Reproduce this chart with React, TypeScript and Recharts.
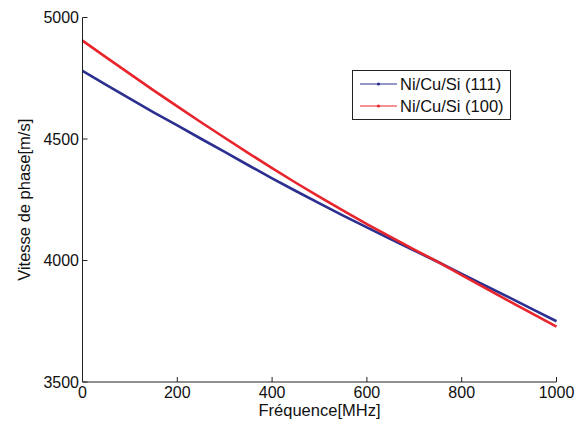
import { Label, Line, LineChart, XAxis, YAxis } from "recharts";

// frequency (MHz) and phase velocity (m/s)
const FREQ = [0, 50, 100, 150, 200, 250, 300, 350, 400, 450, 500, 550, 600, 650, 700, 750, 800, 850, 900, 950, 1000];
const V_111 = [4780, 4723, 4666, 4610, 4556, 4501, 4447, 4392, 4338, 4286, 4235, 4185, 4136, 4088, 4041, 3994, 3945, 3896, 3848, 3799, 3750];
const V_100 = [4905, 4836, 4768, 4700, 4634, 4569, 4505, 4442, 4380, 4320, 4262, 4205, 4150, 4097, 4045, 3994, 3940, 3886, 3833, 3780, 3728];
const X_TICKS = [0, 200, 400, 600, 800, 1000];
const Y_TICKS = [3500, 4000, 4500, 5000];

const BLUE = "#2b2f8f";
const RED = "#e8242c";
const AXIS = "#222";
const FONT = "'Liberation Sans', Arial, sans-serif";
const TICK = { fill: "#111", fontSize: 16, fontFamily: FONT };

const data = FREQ.map((f, i) => ({ f, v111: V_111[i], v100: V_100[i] }));

const SERIES = [
  { key: "v111", color: BLUE, label: "Ni/Cu/Si (111)" },
  { key: "v100", color: RED, label: "Ni/Cu/Si (100)" },
];

// MATLAB-style boxed legend, laid over the plot so it takes no layout space
function BoxLegend() {
  return (
    <div
      style={{
        position: "absolute",
        left: 352,
        top: 70,
        border: "1px solid #222",
        background: "#fff",
        padding: "2px 6px 2px 7px",
        fontFamily: FONT,
        fontSize: 16.5,
        lineHeight: "22px",
        color: "#111",
      }}
    >
      {SERIES.map((s) => (
        <div key={s.key} style={{ display: "flex", alignItems: "center" }}>
          <svg width={38} height={10} style={{ marginRight: 2 }}>
            <line x1={0} y1={5} x2={37} y2={5} stroke={s.color} strokeWidth={1} />
            <circle cx={18.5} cy={5} r={1.6} fill={s.color} />
          </svg>
          {s.label}
        </div>
      ))}
    </div>
  );
}

export default function App() {
  return (
    <div style={{ position: "absolute", left: 0, top: 0, width: 585, height: 425, background: "#fff" }}>
      <LineChart
        width={585}
        height={425}
        data={data}
        margin={{ top: 17.5, right: 28.5, bottom: 0, left: 0 }}
      >
        <XAxis
          dataKey="f"
          type="number"
          domain={[0, 1000]}
          ticks={X_TICKS}
          interval={0}
          stroke={AXIS}
          tick={TICK}
          tickSize={-5}
          tickMargin={10}
          height={43}
        >
          <Label
            content={({ viewBox }: any) => (
              <text
                x={viewBox.x + viewBox.width / 2}
                y={viewBox.y + 34}
                textAnchor="middle"
                fontSize={16.5}
                fontFamily={FONT}
                fill="#111"
              >
                Fréquence[MHz]
              </text>
            )}
          />
        </XAxis>
        <XAxis
          xAxisId="top"
          orientation="top"
          dataKey="f"
          type="number"
          domain={[0, 1000]}
          ticks={X_TICKS}
          stroke={AXIS}
          tick={false}
          tickSize={-5}
          height={0}
        />
        <YAxis
          type="number"
          domain={[3500, 5000]}
          ticks={Y_TICKS}
          interval={0}
          stroke={AXIS}
          tick={TICK}
          tickSize={-5}
          tickMargin={8.5}
          width={82.5}
        >
          <Label
            content={({ viewBox }: any) => (
              <text
                x={viewBox.x + 24}
                y={viewBox.y + viewBox.height / 2}
                transform={`rotate(-90 ${viewBox.x + 24} ${viewBox.y + viewBox.height / 2})`}
                textAnchor="middle"
                dominantBaseline="central"
                fontSize={16.5}
                fontFamily={FONT}
                fill="#111"
              >
                Vitesse de phase[m/s]
              </text>
            )}
          />
        </YAxis>
        <YAxis
          yAxisId="right"
          orientation="right"
          type="number"
          domain={[3500, 5000]}
          ticks={Y_TICKS}
          stroke={AXIS}
          tick={false}
          tickSize={-5}
          width={0}
        />
        {SERIES.map((s) => (
          <Line
            key={s.key}
            dataKey={s.key}
            stroke={s.color}
            strokeWidth={2.6}
            dot={false}
            isAnimationActive={false}
          />
        ))}
      </LineChart>
      <BoxLegend />
    </div>
  );
}
